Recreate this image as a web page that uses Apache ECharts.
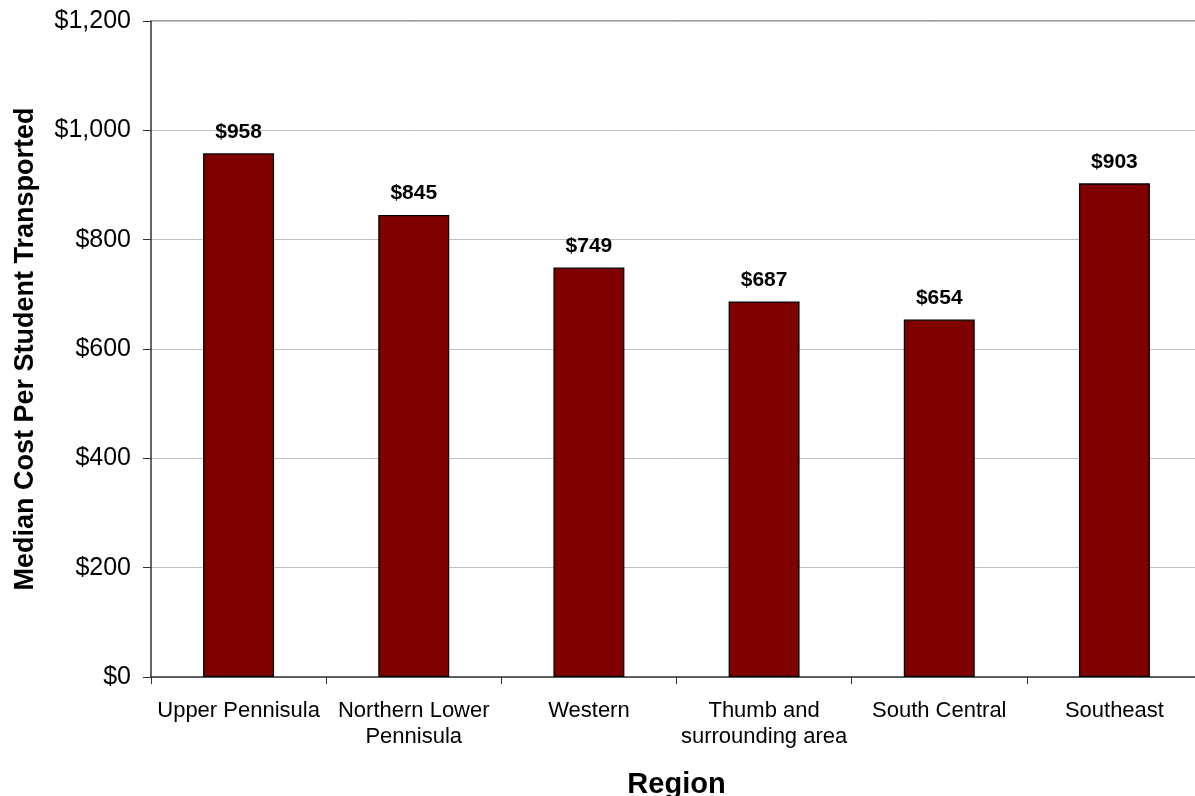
<!DOCTYPE html>
<html>
<head>
<meta charset="utf-8">
<script src="https://cdn.jsdelivr.net/npm/echarts@6/dist/echarts.min.js"></script>
<style>
  html, body { margin: 0; padding: 0; background: #fff; }
  #chart { width: 1195px; height: 796px; }
</style>
</head>
<body>
<div id="chart"></div>
<script>
// Median transportation cost per student, by region
const regions = [
  'Upper Pennisula',
  'Northern Lower\nPennisula',
  'Western',
  'Thumb and\nsurrounding area',
  'South Central',
  'Southeast'
];
const medianCost = [958, 845, 749, 687, 654, 903];

const yMin = 0;
const yMax = 1200;
const yStep = 200;

const fontFamily = '"Liberation Sans", Arial, sans-serif';

const chart = echarts.init(document.getElementById('chart'), null, { renderer: 'canvas' });

function money(v) {
  return '$' + Number(v).toLocaleString('en-US');
}

const plotLeft = 151;
const plotTop = 21;

chart.setOption({
  animation: false,
  backgroundColor: '#ffffff',
  grid: {
    left: plotLeft, right: -7, top: plotTop, bottom: 119,
    containLabel: false,
    outerBoundsMode: 'none'
  },
  xAxis: {
    type: 'category',
    data: regions,
    name: 'Region',
    nameLocation: 'middle',
    nameGap: 93,
    nameTextStyle: { fontFamily, fontSize: 29, fontWeight: 'bold', color: '#000' },
    axisLine: { lineStyle: { color: '#333', width: 1.5 } },
    axisTick: { show: true, alignWithLabel: false, length: 7, lineStyle: { color: '#333' } },
    axisLabel: {
      fontFamily, fontSize: 22, color: '#000', margin: 21, lineHeight: 26, interval: 0
    },
    splitLine: { show: false }
  },
  yAxis: {
    type: 'value',
    min: yMin,
    max: yMax,
    interval: yStep,
    name: 'Median Cost Per Student Transported',
    nameLocation: 'middle',
    nameGap: 112,
    nameRotate: 90,
    nameTextStyle: { fontFamily, fontSize: 27, fontWeight: 'bold', color: '#000' },
    axisLine: { show: true, lineStyle: { color: '#333', width: 1.5 } },
    axisTick: { show: true, length: 8, lineStyle: { color: '#333' } },
    axisLabel: { fontFamily, fontSize: 25, color: '#000', margin: 20, formatter: money },
    splitLine: { show: true, lineStyle: { color: '#c0c0c0', width: 1 } }
  },
  series: [{
    type: 'bar',
    data: medianCost,
    barWidth: '40.5%',
    itemStyle: { color: '#800000', borderColor: '#000', borderWidth: 1.3 },
    label: {
      show: true,
      position: 'top',
      distance: 11,
      fontFamily, fontSize: 21, fontWeight: 'bold', color: '#000',
      formatter: p => money(p.value)
    }
  }],
  graphic: [{
    // darker line along the top of the plot area
    type: 'line',
    shape: { x1: plotLeft, y1: plotTop, x2: 1195, y2: plotTop },
    style: { stroke: '#808080', lineWidth: 1.5 }
  }]
});
</script>
</body>
</html>
